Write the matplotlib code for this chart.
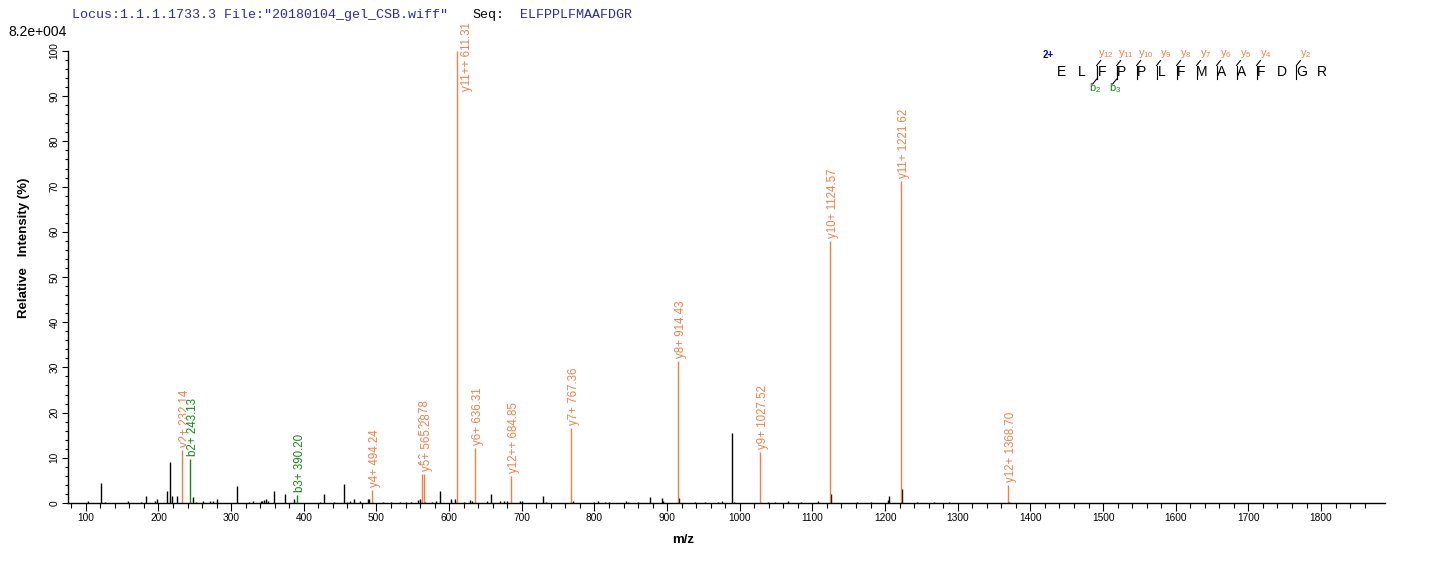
import matplotlib
matplotlib.use("Agg")
import matplotlib.pyplot as plt
from matplotlib.lines import Line2D
from matplotlib.transforms import Affine2D, offset_copy

plt.rcParams['font.family'] = ['Liberation Sans', 'DejaVu Sans']

# ---------------- data ----------------
noise_mz = [103, 121, 126, 158, 176, 183, 195, 198, 212, 216, 218, 226, 247, 252, 261, 271,
            275, 281, 308, 324, 330, 341, 343, 345, 348, 351, 359, 374, 386, 422, 428, 441,
            456, 460, 463, 469, 477, 488, 490, 509, 520, 532, 540, 548, 557.5, 560, 567, 576,
            582, 587.6, 602, 607.6, 620, 629, 631, 652, 657, 670, 676, 680, 698, 700, 728.6,
            733, 770, 800, 805, 814, 820, 844, 846, 860, 876.4, 892.3, 894.6, 916, 938, 952,
            970, 976, 989.6, 992, 1039, 1048, 1066, 1084, 1108, 1126, 1162, 1181, 1203.5,
            1205, 1222.7, 1244, 1267, 1288, 1370.5]
noise_int = [0.5, 4.5, 0.3, 0.4, 0.3, 1.5, 0.5, 0.9, 2.6, 9.0, 1.5, 1.5, 1.3, 0.3, 0.5, 0.5,
             0.4, 0.9, 3.8, 0.3, 0.5, 0.5, 0.5, 0.6, 0.9, 0.5, 2.6, 1.9, 0.8, 0.3, 1.9, 0.3,
             4.3, 0.3, 0.4, 0.8, 0.5, 0.9, 0.9, 0.2, 0.2, 0.2, 0.2, 0.2, 0.7, 0.9, 0.2, 0.2,
             0.5, 2.6, 0.8, 0.8, 0.2, 0.7, 0.5, 0.5, 2.0, 0.5, 0.5, 0.4, 0.5, 0.4, 1.5,
             0.2, 0.5, 0.3, 0.5, 0.2, 0.2, 0.5, 0.2, 0.2, 1.3, 1.0, 0.5, 1.0, 0.2, 0.2,
             0.2, 0.5, 15.5, 0.2, 0.2, 0.2, 0.5, 0.2, 0.5, 2.0, 0.3, 0.2, 0.7,
             1.5, 3.2, 0.2, 0.2, 0.2, 0.3]

ion_names = ["y2+", "b2+", "b3+", "y4+", "y10++", "y5+", "y11++", "y6+", "y12++", "y7+",
             "y8+", "y9+", "y10+", "y11+", "y12+"]
ion_mz = [232.14, 243.13, 390.20, 494.24, 562.78, 565.28, 611.31, 636.31, 684.85, 767.36,
          914.43, 1027.52, 1124.57, 1221.62, 1368.70]
ion_int = [11.7, 9.7, 1.8, 2.9, 6.4, 6.4, 100.0, 12.2, 6.0, 16.6,
           31.4, 11.3, 58.0, 71.2, 4.0]
ion_type = ["y", "b", "b", "y", "y", "y", "y", "y", "y", "y", "y", "y", "y", "y", "y"]

sequence = "ELFPPLFMAAFDGR"
y_ions_seen = [12, 11, 10, 9, 8, 7, 6, 5, 4, 2]
b_ions_seen = [2, 3]

x_ticks = list(range(100, 1900, 100))
y_ticks = list(range(0, 110, 10))

header_left = 'Locus:1.1.1.1733.3 File:"20180104_gel_CSB.wiff"'
header_seq = "ELFPPLFMAAFDGR"
scale_text = "8.2e+004"

ORANGE = '#EE8048'
GREEN = '#108A10'
BLUE = '#2A2AB0'

W, H = 1436, 562
fig = plt.figure(figsize=(W / 100, H / 100), dpi=100)
pix = Affine2D().scale(1 / W, -1 / H).translate(0, 1) + fig.transFigure

ax = fig.add_axes([68 / W, 1 - 503 / H, (1385 - 68) / W, (503 - 51) / H])
ax.set_xlim(75.5, 1888)
ax.set_ylim(0, 100)

# noise peaks
ax.vlines(noise_mz, 0, noise_int, colors='black', linewidth=1.0)

# annotated peaks
lab_tr = offset_copy(ax.transData, fig=fig, x=3, y=3, units='dots')
top_tr = offset_copy(ax.transData, fig=fig, x=10, y=0, units='dots')
for name, mz, it, t in zip(ion_names, ion_mz, ion_int, ion_type):
    col = ORANGE if t == 'y' else GREEN
    ax.vlines([mz], 0, [it], colors=col, linewidth=1.0, zorder=2)
    label = f"{name} {mz:.2f}"
    if it > 85:
        ax.text(mz, 106.4, label, rotation=90, ha='center', va='top', fontsize=8.3,
                color=col, transform=top_tr, clip_on=False, zorder=3)
    else:
        ax.text(mz, it, label, rotation=90, ha='center', va='bottom', fontsize=8.3,
                color=col, transform=lab_tr, clip_on=False, zorder=3,
                bbox=dict(facecolor='white', edgecolor='none', pad=0.3))

# axes styling
for s in ['top', 'right']:
    ax.spines[s].set_visible(False)
for s in ['left', 'bottom']:
    ax.spines[s].set_linewidth(1.0)
ax.set_xticks(x_ticks)
ax.set_xticks(list(range(80, 1880, 20)), minor=True)
ax.set_yticks(y_ticks)
ax.set_yticks(list(range(0, 101, 2)), minor=True)
ax.tick_params(axis='x', which='major', length=5.8, width=0.8, labelsize=7.3, pad=1.5)
ax.tick_params(axis='x', which='minor', length=3.6, width=0.8)
ax.tick_params(axis='y', which='major', length=4.5, width=0.8, labelsize=7.3, pad=1.5)
ax.tick_params(axis='y', which='minor', length=2.5, width=0.8)
for lbl in ax.get_yticklabels():
    lbl.set_rotation(90)
    lbl.set_va('center')

fig.text(683, 540, "m/z", transform=pix, ha='center', va='center', fontsize=9.5,
         fontweight='bold')
fig.text(24, 248, "Relative   Intensity (%)", transform=pix, ha='center', va='center',
         fontsize=9.5, fontweight='bold', rotation=90)

# header
fig.text(72, 15, header_left, transform=pix, ha='left', va='center', fontsize=9.6,
         family='Liberation Mono', color=BLUE)
fig.text(472, 15, "Seq:", transform=pix, ha='left', va='center', fontsize=9.6,
         family='Liberation Mono', color='black')
fig.text(520, 15, header_seq, transform=pix, ha='left', va='center', fontsize=9.6,
         family='Liberation Mono', color=BLUE)
fig.text(8, 32, scale_text, transform=pix, ha='left', va='center', fontsize=10)

# sequence annotation
x0, step, yc = 1061.7, 19.98, 72
fig.text(1048, 55, "2+", transform=pix, ha='center', va='center', fontsize=7,
         fontweight='bold', color='#0000CC')
for i, ch in enumerate(sequence):
    fig.text(x0 + i * step, yc, ch, transform=pix, ha='center', va='center', fontsize=10)
n = len(sequence)
for k in y_ions_seen:
    cut = n - k
    bx = x0 + cut * step - 5
    fig.add_artist(Line2D([bx, bx], [65.5, 79], transform=pix, color='black', lw=0.8))
    fig.add_artist(Line2D([bx, bx + 4], [65.5, 60.5], transform=pix, color='black', lw=0.8))
    fig.text(bx + 9, 54, r"$\mathregular{y_{%d}}$" % k, transform=pix, ha='center',
             va='center', fontsize=8, color=ORANGE)
for k in b_ions_seen:
    bx = x0 + k * step - 5
    fig.add_artist(Line2D([bx, bx], [65.5, 79], transform=pix, color='black', lw=0.8))
    fig.add_artist(Line2D([bx, bx - 4], [79, 84], transform=pix, color='black', lw=0.8))
    fig.text(bx - 2, 88, r"$\mathregular{b_{%d}}$" % k, transform=pix, ha='center',
             va='center', fontsize=8, color=GREEN)

fig.savefig("out.png", dpi=100)
